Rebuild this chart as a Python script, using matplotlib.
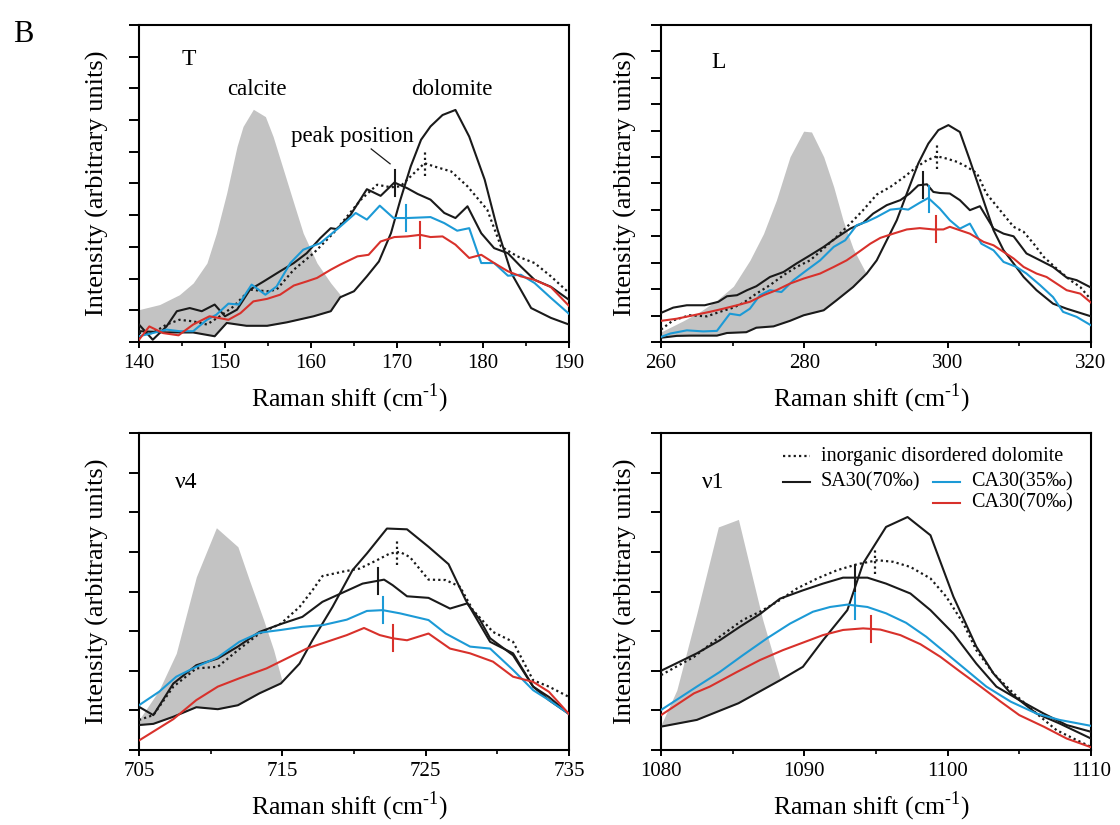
import matplotlib
matplotlib.use("Agg")
import matplotlib.pyplot as plt
from matplotlib.ticker import FixedLocator
import numpy as np

plt.rcParams['font.family'] = ['Liberation Serif', 'DejaVu Serif']
plt.rcParams['mathtext.fontset'] = 'custom'
plt.rcParams['mathtext.rm'] = 'Liberation Serif'

BLUE = '#1c9ad6'
RED = '#d8312b'
GRAY = '#c3c3c3'
INK = '#1a1a1a'

# ---- T band (140-190 cm-1) ----
T_calcite_x = [140.0, 142.4, 144.7, 146.3, 147.9, 149.0, 150.2, 151.4, 152.1, 153.3, 154.7, 155.6,
               156.8, 158.0, 159.1, 160.7, 162.3, 163.4, 165.0, 166.5]
T_calcite_y = [1.02, 1.18, 1.49, 1.86, 2.49, 3.43, 4.70, 6.17, 6.80, 7.34, 7.11, 6.48,
               5.43, 4.38, 3.43, 2.49, 1.86, 1.49, 0.81, 0.28]
T_dolomite_x = [140.0, 143.2, 146.3, 148.8, 150.2, 152.5, 154.9, 157.2, 160.3, 162.3, 163.4, 165.0,
                166.5, 167.9, 169.3, 170.4, 171.6, 172.8, 173.9, 175.3, 176.8, 178.4, 180.2,
                181.7, 183.3, 185.6, 187.9, 190.0]
T_dolomite_y = [0.34, 0.30, 0.30, 0.18, 0.60, 0.51, 0.51, 0.62, 0.81, 0.97, 1.41, 1.60,
                2.07, 2.54, 3.43, 4.49, 5.54, 6.38, 6.80, 7.16, 7.32, 6.48, 5.12,
                3.54, 2.17, 1.07, 0.76, 0.55]
T_inorg_x = [140.0, 141.6, 143.2, 144.7, 146.3, 147.9, 149.4, 151.0, 152.9, 154.9, 156.0, 158.0,
             160.3, 162.6, 164.2, 165.8, 167.7, 169.3, 170.4, 172.0, 173.2, 174.3, 176.3, 178.2,
             180.5, 182.1, 184.0, 186.0, 187.9, 190.0]
T_inorg_y = [0.28, 0.28, 0.55, 0.70, 0.65, 0.55, 0.81, 1.12, 1.65, 1.60, 1.65, 2.28,
             2.80, 3.43, 3.96, 4.49, 4.96, 4.88, 4.91, 5.33, 5.64, 5.54, 5.38, 4.91,
             4.17, 3.01, 2.70, 2.49, 2.07, 1.55]
T_sa70_x = [140.0, 141.6, 143.2, 144.4, 145.9, 147.3, 148.8, 150.0, 151.4, 152.9, 154.5, 156.4,
            158.0, 159.5, 161.1, 162.3, 163.0, 164.6, 166.5, 168.1, 169.7, 171.2, 172.4, 173.9,
            175.5, 176.8, 178.2, 179.8, 181.3, 182.9, 184.4, 186.0, 187.9, 190.0]
T_sa70_y = [0.55, 0.07, 0.49, 0.97, 1.07, 0.97, 1.18, 0.81, 1.02, 1.65, 1.91, 2.23,
            2.49, 2.80, 3.28, 3.59, 3.56, 4.01, 4.82, 4.61, 5.03, 4.85, 4.67, 4.49,
            4.07, 3.91, 4.28, 3.43, 2.96, 2.80, 2.38, 1.96, 1.74, 1.33]
T_ca35_x = [140.0, 141.6, 143.2, 144.7, 146.3, 147.9, 149.0, 150.4, 151.6, 153.1, 154.7, 156.0,
            157.6, 159.1, 161.1, 163.4, 165.2, 166.5, 168.0, 169.6, 171.2, 173.9, 175.5, 177.0,
            178.4, 179.8, 181.3, 182.9, 184.4, 186.0, 187.9, 190.0]
T_ca35_y = [0.18, 0.28, 0.39, 0.34, 0.34, 0.70, 0.86, 1.21, 1.18, 1.81, 1.49, 1.75,
            2.49, 2.91, 3.12, 3.64, 4.07, 3.86, 4.30, 3.91, 3.91, 3.94, 3.75, 3.51,
            3.59, 2.49, 2.49, 2.09, 2.12, 1.86, 1.39, 0.89]
T_ca70_x = [140.0, 141.2, 142.8, 144.6, 146.3, 148.2, 150.4, 151.8, 153.3, 154.9, 156.4, 158.0,
            159.5, 160.7, 162.3, 163.4, 165.4, 166.7, 168.1, 169.7, 171.2, 172.7, 173.9, 175.3,
            176.8, 178.4, 179.8, 181.3, 182.9, 184.4, 186.0, 187.9, 190.0]
T_ca70_y = [0.07, 0.49, 0.28, 0.21, 0.55, 0.81, 0.70, 0.91, 1.28, 1.36, 1.49, 1.78,
            1.91, 2.02, 2.28, 2.44, 2.70, 2.75, 3.17, 3.31, 3.33, 3.38, 3.31, 3.33,
            3.07, 2.65, 2.75, 2.49, 2.23, 2.07, 1.96, 1.73, 1.14]
T_peaks = [173.3, 169.8, 171.1, 172.7]   # inorganic, SA30(70), CA30(35), CA30(70)

# ---- L band (260-320 cm-1) ----
L_calcite_x = [260.0, 263.1, 265.4, 267.8, 270.1, 272.4, 274.3, 276.1, 278.0, 279.9, 281.0, 282.7,
               284.1, 285.4, 286.8, 288.7, 290.6, 292.9]
L_calcite_y = [0.38, 0.80, 1.14, 1.58, 2.11, 3.09, 4.10, 5.37, 7.01, 7.98, 7.95, 7.01,
               5.87, 4.61, 3.54, 2.56, 1.58, 0.82]
L_dolomite_x = [260.0, 262.2, 264.0, 267.8, 269.2, 271.9, 273.3, 275.7, 278.0, 279.9, 282.7, 284.5,
                286.8, 288.7, 290.1, 291.5, 292.9, 294.3, 295.9, 297.3, 298.7, 300.1, 301.7,
                303.1, 304.7, 306.4, 307.8, 309.2, 310.6, 312.4, 314.7, 316.6, 320.0]
L_dolomite_y = [0.16, 0.23, 0.24, 0.24, 0.34, 0.37, 0.54, 0.59, 0.80, 1.01, 1.20, 1.58,
                2.08, 2.59, 3.09, 3.85, 4.61, 5.62, 6.76, 7.51, 8.02, 8.21, 7.95,
                6.88, 5.60, 4.23, 3.47, 2.97, 2.46, 1.96, 1.45, 1.26, 0.97]
L_inorg_x = [260.0, 261.7, 264.0, 266.4, 268.2, 270.1, 271.5, 273.3, 275.2, 277.1, 278.9, 280.8,
             282.7, 284.5, 286.4, 288.2, 290.1, 292.0, 293.8, 295.7, 297.1, 298.5, 299.9,
             301.3, 302.7, 304.1, 305.4, 307.3, 309.2, 310.6, 312.0, 313.4, 315.2, 317.1,
             318.5, 320.0]
L_inorg_y = [0.47, 0.82, 1.01, 0.97, 1.14, 1.30, 1.48, 1.83, 2.15, 2.53, 2.84, 3.09,
             3.54, 3.98, 4.48, 4.99, 5.58, 5.87, 6.22, 6.63, 6.88, 7.03, 6.94,
             6.82, 6.63, 6.38, 5.62, 4.99, 4.36, 4.17, 3.72, 3.22, 2.78, 2.34,
             2.08, 1.60]
L_sa70_x = [260.0, 261.7, 263.6, 266.1, 268.0, 269.2, 270.6, 272.0, 273.3, 275.2, 277.1, 278.9,
            280.8, 282.7, 284.5, 286.4, 288.2, 289.6, 291.5, 293.4, 294.7, 295.9, 297.1,
            298.0, 298.9, 300.3, 301.7, 303.1, 304.5, 306.4, 307.8, 309.2, 311.0, 312.9,
            314.7, 316.6, 318.0, 320.0]
L_sa70_y = [1.10, 1.30, 1.39, 1.39, 1.52, 1.73, 1.77, 1.96, 2.11, 2.46, 2.65, 2.97,
            3.28, 3.60, 3.95, 4.29, 4.51, 4.86, 5.18, 5.37, 5.62, 5.93, 5.97,
            5.68, 5.64, 5.62, 5.37, 4.99, 5.14, 4.29, 4.10, 4.00, 3.35, 3.09,
            2.84, 2.44, 2.34, 2.06]
L_ca35_x = [260.0, 261.3, 263.6, 265.9, 267.8, 269.6, 271.0, 272.4, 273.8, 275.2, 276.8, 278.5,
            280.3, 282.2, 284.1, 285.7, 287.3, 288.7, 290.1, 292.0, 293.4, 294.5, 296.1,
            297.3, 298.9, 300.3, 301.7, 303.1, 304.7, 306.4, 307.8, 309.6, 311.0, 312.9,
            314.7, 316.1, 318.0, 320.0]
L_ca35_y = [0.19, 0.32, 0.44, 0.40, 0.42, 1.07, 1.01, 1.26, 1.77, 1.96, 1.89, 2.34,
            2.71, 3.09, 3.60, 3.85, 4.42, 4.55, 4.73, 5.01, 5.05, 5.01, 5.27,
            5.45, 5.05, 4.61, 4.29, 4.48, 3.72, 3.47, 3.03, 2.84, 2.59, 2.15,
            1.70, 1.14, 0.95, 0.63]
L_ca70_x = [260.0, 262.2, 264.5, 266.8, 268.7, 270.6, 272.4, 274.3, 276.1, 278.0, 279.9, 282.2,
            284.1, 285.9, 287.3, 289.2, 290.6, 292.4, 294.3, 296.1, 298.0, 299.4, 300.3,
            301.7, 303.1, 305.0, 306.4, 307.8, 309.2, 310.6, 312.4, 313.8, 315.2, 316.6,
            318.5, 320.0]
L_ca70_y = [0.80, 0.88, 1.01, 1.14, 1.26, 1.39, 1.52, 1.77, 1.96, 2.21, 2.40, 2.59,
            2.84, 3.09, 3.35, 3.72, 3.94, 4.10, 4.26, 4.31, 4.26, 4.26, 4.36,
            4.23, 4.10, 3.79, 3.66, 3.41, 3.16, 2.84, 2.59, 2.46, 2.21, 1.96,
            1.83, 1.49]
L_peaks = [298.5, 296.6, 297.4, 298.4]

# ---- v4 band (705-735 cm-1) ----
V4_calcite_x = [705.0, 706.4, 707.6, 709.0, 710.4, 711.9, 712.7, 713.7, 714.4, 715.0, 716.2, 717.6]
V4_calcite_y = [0.76, 1.51, 2.44, 4.37, 5.61, 5.13, 4.29, 3.28, 2.52, 1.72, 1.09, 0.59]
V4_dolomite_x = [705.0, 706.0, 707.4, 709.0, 710.5, 711.9, 713.4, 714.9, 716.2, 717.1, 718.5, 719.9,
                 720.9, 722.3, 723.7, 725.2, 726.6, 727.8, 729.5, 731.1, 732.5, 733.6, 735.0]
V4_dolomite_y = [0.63, 0.66, 0.84, 1.08, 1.03, 1.13, 1.43, 1.68, 2.18, 2.77, 3.61, 4.54,
                 4.96, 5.59, 5.57, 5.13, 4.69, 3.78, 2.73, 2.44, 1.60, 1.26, 0.91]
V4_inorg_x = [705.0, 706.0, 707.4, 709.0, 710.5, 711.9, 713.4, 714.9, 716.2, 717.1, 717.8, 719.2,
              720.4, 721.6, 722.5, 723.2, 723.9, 725.2, 726.4, 727.4, 728.3, 729.7, 731.1,
              732.5, 733.6, 735.0]
V4_inorg_y = [0.76, 0.88, 1.60, 2.06, 2.10, 2.52, 2.94, 3.19, 3.61, 4.03, 4.39, 4.50,
              4.58, 4.79, 4.96, 5.00, 4.87, 4.30, 4.29, 4.12, 3.53, 2.98, 2.73,
              1.76, 1.60, 1.34]
V4_sa70_x = [705.0, 706.0, 707.4, 709.0, 710.5, 711.9, 713.4, 714.9, 716.4, 717.8, 719.2, 720.6,
             722.1, 722.7, 723.7, 725.2, 726.7, 727.9, 728.8, 729.5, 731.1, 732.5, 733.6, 735.0]
V4_sa70_y = [1.09, 0.88, 1.68, 2.14, 2.31, 2.61, 2.98, 3.18, 3.36, 3.74, 3.97, 4.20,
             4.30, 4.16, 3.88, 3.84, 3.57, 3.70, 3.28, 2.82, 2.39, 1.60, 1.34, 0.91]
V4_ca35_x = [705.0, 706.4, 707.6, 709.0, 710.5, 712.0, 713.4, 714.9, 716.4, 717.8, 719.5, 720.9,
             722.0, 723.2, 725.2, 726.4, 728.1, 729.5, 731.1, 732.5, 733.6, 735.0]
V4_ca35_y = [1.13, 1.47, 1.85, 2.10, 2.34, 2.73, 2.96, 3.03, 3.11, 3.15, 3.29, 3.51,
             3.53, 3.45, 3.28, 2.94, 2.61, 2.56, 2.02, 1.51, 1.26, 0.91]
V4_ca70_x = [705.0, 707.4, 709.0, 710.5, 712.0, 713.9, 715.3, 716.7, 718.1, 719.5, 720.7, 721.8,
             722.7, 723.7, 725.2, 726.7, 728.1, 729.7, 731.1, 732.5, 733.6, 735.0]
V4_ca70_y = [0.24, 0.78, 1.26, 1.60, 1.81, 2.06, 2.31, 2.56, 2.73, 2.90, 3.08, 2.90,
             2.82, 2.77, 2.94, 2.56, 2.44, 2.23, 1.85, 1.72, 1.47, 0.91]
V4_peaks = [723.0, 721.7, 722.0, 722.7]

# ---- v1 band (1080-1110 cm-1) ----
V1_calcite_x = [1080.0, 1081.1, 1082.5, 1084.0, 1085.4, 1086.2, 1087.1, 1088.3, 1089.5, 1090.9]
V1_calcite_y = [0.63, 1.51, 3.45, 5.63, 5.82, 4.62, 3.28, 1.81, 1.18, 0.50]
V1_dolomite_x = [1080.0, 1082.5, 1085.4, 1088.3, 1089.9, 1091.3, 1093.0, 1094.1, 1095.7, 1097.2,
                 1098.8, 1100.4, 1102.0, 1103.2, 1104.4, 1106.2, 1107.8, 1110.0]
V1_dolomite_y = [0.59, 0.76, 1.18, 1.76, 2.10, 2.77, 3.53, 4.71, 5.63, 5.88,
                 5.42, 3.87, 2.61, 1.93, 1.43, 0.92, 0.67, 0.29]
V1_inorg_x = [1080.0, 1082.3, 1084.1, 1085.7, 1086.9, 1088.1, 1089.5, 1090.9, 1092.3, 1093.7,
              1095.1, 1096.2, 1097.4, 1098.8, 1099.9, 1101.1, 1102.0, 1103.2, 1104.6, 1106.2,
              1107.6, 1109.0, 1110.0]
V1_inorg_y = [1.89, 2.35, 2.86, 3.28, 3.49, 3.74, 4.08, 4.33, 4.54, 4.69,
              4.79, 4.75, 4.62, 4.33, 3.87, 3.19, 2.52, 1.93, 1.43, 0.92,
              0.50, 0.25, 0.08]
V1_sa70_x = [1080.0, 1082.5, 1084.1, 1085.5, 1086.9, 1088.3, 1089.9, 1091.3, 1092.7, 1094.4,
             1095.7, 1097.4, 1098.8, 1100.4, 1102.0, 1103.4, 1105.0, 1106.7, 1108.3, 1110.0]
V1_sa70_y = [2.00, 2.44, 2.77, 3.11, 3.43, 3.82, 4.03, 4.20, 4.35, 4.35,
             4.20, 3.95, 3.53, 2.94, 2.18, 1.60, 1.26, 0.92, 0.63, 0.46]
V1_ca35_x = [1080.0, 1082.5, 1084.1, 1085.7, 1087.4, 1089.0, 1090.6, 1091.8, 1093.0, 1094.4,
             1095.7, 1097.1, 1098.5, 1099.9, 1101.3, 1102.7, 1104.4, 1106.2, 1107.8, 1110.0]
V1_ca35_y = [1.01, 1.60, 1.97, 2.39, 2.82, 3.19, 3.49, 3.61, 3.67, 3.61,
             3.45, 3.21, 2.86, 2.44, 2.02, 1.60, 1.22, 0.92, 0.76, 0.61]
V1_ca70_x = [1080.0, 1082.3, 1083.4, 1085.3, 1086.9, 1088.5, 1089.9, 1091.3, 1092.7, 1094.1,
             1095.3, 1096.7, 1098.1, 1099.5, 1100.9, 1102.3, 1103.7, 1105.0, 1106.7, 1108.3, 1110.0]
V1_ca70_y = [0.88, 1.43, 1.60, 1.97, 2.27, 2.52, 2.71, 2.90, 3.03, 3.07,
             3.04, 2.90, 2.67, 2.35, 1.97, 1.60, 1.22, 0.88, 0.59, 0.29, 0.07]
V1_peaks = [1094.9, 1093.5, 1093.55, 1094.65]


def panel(rect, xlim, xmajor, ymax, calcite, dolomite, samples, peaks, tag, ylab_x):
    ax = fig.add_axes(rect)
    # calcite reference band in grey, dolomite reference masks it in white
    ax.fill_between(calcite[0], 0, calcite[1], color=GRAY, lw=0, zorder=1)
    ax.fill_between(dolomite[0], 0, dolomite[1], color='white', lw=0, zorder=1.5)
    ax.plot(dolomite[0], dolomite[1], color=INK, lw=1.5, zorder=3)

    styles = [dict(color=INK, ls=(0, (1, 1.4)), lw=1.6),
              dict(color=INK, ls='-', lw=1.5),
              dict(color=BLUE, ls='-', lw=1.5),
              dict(color=RED, ls='-', lw=1.5)]
    half = 0.041 * ymax
    for (sx, sy), st, pk in zip(samples, styles, peaks):
        ax.plot(sx, sy, zorder=3, **st)
        yc = np.interp(pk, sx, sy)
        ax.plot([pk, pk], [yc - half, yc + half], zorder=4, **st)

    ax.set_xlim(*xlim)
    ax.set_ylim(0, ymax)
    ax.xaxis.set_major_locator(FixedLocator(np.arange(xlim[0], xlim[1] + 0.1, xmajor)))
    ax.xaxis.set_minor_locator(FixedLocator(np.arange(xlim[0], xlim[1] + 0.1, xmajor / 2)))
    ax.yaxis.set_major_locator(FixedLocator(np.arange(0, ymax + 0.1, 1)))
    ax.tick_params(axis='y', direction='out', length=7, width=1.4, labelleft=False)
    ax.tick_params(axis='x', which='major', direction='out', length=4.5, width=1.4,
                   labelsize=15, pad=4)
    ax.tick_params(axis='x', which='minor', direction='out', length=3, width=1.2)
    for s in ax.spines.values():
        s.set_linewidth(1.5)
    ax.set_xlabel(r'Raman shift (cm$^{\text{-1}}$)', fontsize=18.5)
    ax.xaxis.set_label_coords(0.49, -0.125)
    ax.set_ylabel('Intensity (arbitrary units)', fontsize=19)
    ax.yaxis.set_label_coords(ylab_x, 0.5)
    ax.text(tag[1], tag[2], tag[0], transform=ax.transAxes, fontsize=17,
            ha='center', va='center')
    return ax


fig = plt.figure(figsize=(11.2, 8.25), dpi=100)
W, H = 0.3839, 0.3842

axT = panel([0.1241, 0.5855, W, H], (140, 190), 10, 10,
            (T_calcite_x, T_calcite_y), (T_dolomite_x, T_dolomite_y),
            [(T_inorg_x, T_inorg_y), (T_sa70_x, T_sa70_y), (T_ca35_x, T_ca35_y), (T_ca70_x, T_ca70_y)],
            T_peaks, ('T', 0.117, 0.89), -0.07)
axL = panel([0.5902, 0.5855, W, H], (260, 320), 20, 12,
            (L_calcite_x, L_calcite_y), (L_dolomite_x, L_dolomite_y),
            [(L_inorg_x, L_inorg_y), (L_sa70_x, L_sa70_y), (L_ca35_x, L_ca35_y), (L_ca70_x, L_ca70_y)],
            L_peaks, ('L', 0.133, 0.883), -0.056)
axV4 = panel([0.1241, 0.0909, W, H], (705, 735), 10, 8,
             (V4_calcite_x, V4_calcite_y), (V4_dolomite_x, V4_dolomite_y),
             [(V4_inorg_x, V4_inorg_y), (V4_sa70_x, V4_sa70_y), (V4_ca35_x, V4_ca35_y), (V4_ca70_x, V4_ca70_y)],
             V4_peaks, ('ν4', 0.109, 0.845), -0.07)
axV1 = panel([0.5902, 0.0909, W, H], (1080, 1110), 10, 8,
             (V1_calcite_x, V1_calcite_y), (V1_dolomite_x, V1_dolomite_y),
             [(V1_inorg_x, V1_inorg_y), (V1_sa70_x, V1_sa70_y), (V1_ca35_x, V1_ca35_y), (V1_ca70_x, V1_ca70_y)],
             V1_peaks, ('ν1', 0.121, 0.845), -0.056)

# labels inside the T panel
axT.text(0.275, 0.795, 'calcite', transform=axT.transAxes, fontsize=16.5, ha='center', va='center')
axT.text(0.727, 0.795, 'dolomite', transform=axT.transAxes, fontsize=16.5, ha='center', va='center')
axT.text(0.497, 0.647, 'peak position', transform=axT.transAxes, fontsize=16.5, ha='center', va='center')
axT.plot([167.0, 169.2], [6.09, 5.62], color=INK, lw=0.9, zorder=4)

# legend drawn by hand in the v1 panel
leg_rows = [(0.927, 0.284, 0.372, dict(color=INK, ls=(0, (1, 1.4)), lw=1.6), 'inorganic disordered dolomite'),
            (0.845, 0.284, 0.372, dict(color=INK, ls='-', lw=1.5), 'SA30(70‰)'),
            (0.845, 0.633, 0.721, dict(color=BLUE, ls='-', lw=1.5), 'CA30(35‰)'),
            (0.779, 0.633, 0.721, dict(color=RED, ls='-', lw=1.5), 'CA30(70‰)')]
for y, x0, xt, st, lab in leg_rows:
    axV1.plot([x0, x0 + 0.062], [y, y], transform=axV1.transAxes, **st)
    axV1.text(xt, y, lab, transform=axV1.transAxes, fontsize=14.5, ha='left', va='center')

fig.text(0.012, 0.949, 'B', fontsize=22, ha='left', va='baseline')

fig.savefig('out.png', dpi=100)
